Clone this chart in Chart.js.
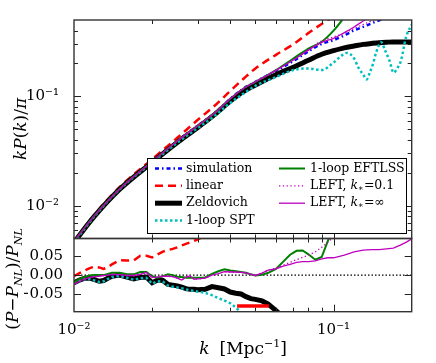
<!DOCTYPE html>
<html><head><meta charset="utf-8">
<script src="https://cdn.jsdelivr.net/npm/chart.js@4/dist/chart.umd.min.js"></script>
<style>
html,body{margin:0;padding:0;background:#fff;}
#wrap{position:relative;width:436px;height:363px;background:#fff;}
canvas{position:absolute;left:0;top:0;}
</style></head><body>
<div id="wrap"><canvas id="topc" width="436" height="363"></canvas><canvas id="botc" width="436" height="363"></canvas></div>
<script>
// ---------- top panel data: kP(k)/pi ----------
const kTop = [0.01,0.012,0.015,0.02,0.025,0.03,0.035,0.04,0.045,0.05,0.06,0.07,0.08,0.09,0.1,0.11,0.12,0.13,0.14,0.15,0.16,0.17,0.18,0.19,0.2];
const simTop  = [0.0047,0.0081,0.0142,0.0253,0.0390,0.0540,0.0710,0.0950,0.118,0.136,0.171,0.211,0.258,0.302,0.327,0.361,0.402,0.432,0.466,0.497,0.53,null,null,null,null];
const linTop  = [0.0047,0.0083,0.0148,0.0266,0.0418,0.0610,0.0830,0.112,0.145,0.180,0.240,0.300,0.380,0.460,0.540,null,null,null,null,null,null,null,null,null,null];
const zelTop  = [0.0046,0.0080,0.0141,0.0249,0.0379,0.0520,0.0688,0.0905,0.111,0.127,0.158,0.185,0.214,0.243,0.262,0.278,0.289,0.299,0.305,0.310,0.313,0.315,0.315,0.315,0.314];
const eftTop  = [0.0047,0.0081,0.0142,0.0253,0.0390,0.0540,0.0710,0.0950,0.118,0.136,0.174,0.222,0.274,0.316,0.400,0.530,null,null,null,null,null,null,null,null,null];
const left01Top = [0.0047,0.0081,0.0142,0.0253,0.0390,0.0540,0.0710,0.0950,0.118,0.136,0.173,0.216,0.268,0.322,0.350,0.380,0.418,0.455,0.490,0.530,null,null,null,null,null];
const leftInfTop = [0.0047,0.0081,0.0142,0.0253,0.0390,0.0540,0.0710,0.0950,0.118,0.136,0.173,0.215,0.265,0.312,0.340,0.383,0.432,0.490,0.550,null,null,null,null,null,null];
const kSptTop = [0.01,0.012,0.015,0.02,0.025,0.03,0.035,0.04,0.045,0.05,0.06,0.07,0.08,0.09,0.1,0.105,0.1125,0.12,0.125,0.13,0.134,0.138,0.142,0.146,0.1527,0.158,0.164,0.1705,0.176,0.182,0.19,0.2];
const sptTop  = [0.0046,0.0080,0.0141,0.0248,0.0377,0.0515,0.0670,0.0870,0.106,0.125,0.150,0.174,0.180,0.174,0.204,0.226,0.250,0.222,0.181,0.159,0.143,0.166,0.200,0.253,0.313,0.263,0.214,0.165,0.181,0.214,0.345,0.454];

// ---------- bottom panel data: (P-P_NL)/P_NL ----------
const kBot = [0.010,0.0105,0.011,0.0115,0.012,0.0125,0.013,0.0135,0.014,0.015,0.016,0.017,0.018,0.019,0.020,0.021,0.022,0.023,0.024,0.025,0.026,0.027,0.028,0.029,0.030,0.032,0.034,0.036,0.038,0.040,0.042,0.044,0.046,0.048,0.050,0.053,0.056,0.060,0.064,0.068,0.072,0.076,0.080,0.085,0.090,0.095,0.100,0.11,0.12,0.13,0.14,0.15,0.16,0.17,0.18,0.19,0.20];
const linBot = [-0.003,0.005,0.012,0.018,0.022,0.020,0.016,0.020,0.028,0.039,0.038,0.038,0.050,0.050,0.046,0.054,0.061,0.065,0.068,0.072,0.077,0.081,0.085,0.089,0.093,0.102,0.115,null,null,null,null,null,null,null,null,null,null,null,null,null,null,null,null,null,null,null,null,null,null,null,null,null,null,null,null,null,null];
const zelBot = [-0.020,-0.013,-0.008,-0.008,-0.012,-0.016,-0.014,-0.008,-0.003,0.000,-0.005,-0.010,-0.006,-0.005,-0.020,-0.013,-0.014,-0.024,-0.026,-0.028,-0.031,-0.035,-0.037,-0.037,-0.038,-0.037,-0.030,-0.033,-0.036,-0.044,-0.047,-0.049,-0.056,-0.061,-0.063,-0.067,-0.075,-0.092,-0.110,null,null,null,null,null,null,null,null,null,null,null,null,null,null,null,null,null,null];
const sptBot = [-0.022,-0.015,-0.010,-0.010,-0.014,-0.018,-0.016,-0.010,-0.005,-0.002,-0.007,-0.012,-0.008,-0.007,-0.022,-0.016,-0.017,-0.027,-0.030,-0.032,-0.034,-0.037,-0.040,-0.041,-0.043,-0.046,-0.052,-0.060,-0.066,-0.073,-0.084,-0.097,-0.110,null,null,null,null,null,null,null,null,null,null,null,null,null,null,null,null,null,null,null,null,null,null,null,null];
const eftBot = [-0.019,-0.010,-0.005,-0.001,0.000,0.000,0.000,0.003,0.006,0.006,0.002,0.002,0.008,0.008,-0.003,-0.007,-0.003,0.002,0.000,-0.004,-0.005,-0.007,-0.007,-0.007,-0.007,-0.006,0.003,0.010,0.015,0.012,0.010,0.008,0.006,0.002,-0.001,0.001,0.006,0.016,0.035,0.053,0.063,0.064,0.054,0.040,0.047,0.088,0.130,null,null,null,null,null,null,null,null,null,null];
const left01Bot = [-0.024,-0.016,-0.010,-0.006,-0.004,-0.003,-0.001,0.000,0.002,0.001,-0.001,-0.001,0.002,0.007,-0.006,-0.005,-0.003,-0.003,-0.004,-0.008,-0.013,-0.005,-0.002,-0.011,-0.010,-0.008,0.000,0.004,0.009,0.008,0.008,0.007,0.006,0.002,-0.001,0.005,0.013,0.018,0.026,0.033,0.040,0.046,0.052,0.060,0.072,0.085,0.100,null,null,null,null,null,null,null,null,null,null];
const leftInfBot = [-0.024,-0.016,-0.010,-0.006,-0.004,-0.003,-0.001,0.000,0.002,0.001,-0.001,-0.001,0.002,0.007,-0.006,-0.005,-0.003,-0.003,-0.004,-0.008,-0.013,-0.005,-0.002,-0.011,-0.010,-0.008,0.000,0.004,0.009,0.008,0.008,0.007,0.006,0.002,-0.001,0.005,0.013,0.016,0.023,0.028,0.033,0.035,0.035,0.037,0.042,0.045,0.045,0.052,0.060,0.065,0.066,0.066,0.068,0.070,0.077,0.085,0.094];
const kZero = [0.01,0.2];
const zeroLine = [0,0];
const kRedBar = [0.0425,0.0563];
const redBar = [-0.080,-0.080];

// ---------- tick values ----------
const xMajor = [0.01,0.1];
const xMinor = [0.02,0.03,0.04,0.05,0.06,0.07,0.08,0.09,0.2];
const yTopMajor = [0.01,0.1];
const yTopMinor = [0.005,0.006,0.007,0.008,0.009,0.02,0.03,0.04,0.05,0.06,0.07,0.08,0.09,0.2,0.3,0.4,0.5];
const yBotMajor = [-0.05,0,0.05];
const xLabels = {'0.01':'10⁻²','0.1':'10⁻¹'};
const yTopLabels = {'0.01':'10⁻²','0.1':'10⁻¹'};
const yBotLabels = {'-0.05':'−0.05','0':'0.00','0.05':'0.05'};

// ---------- styles ----------
const C = {blue:'#0000ff', red:'#ff0000', black:'#000000', cyan:'#00bfbf', green:'#008000', mag:'#bf00bf'};
const S = {
  sim:{borderColor:C.blue, borderWidth:2.5, borderDash:[4,3,1.5,3]},
  lin:{borderColor:C.red, borderWidth:2.5, borderDash:[8,5]},
  zel:{borderColor:C.black, borderWidth:5, borderDash:[]},
  spt:{borderColor:C.cyan, borderWidth:2.5, borderDash:[2.5,2.5]},
  eft:{borderColor:C.green, borderWidth:2, borderDash:[]},
  l01:{borderColor:C.mag, borderWidth:1.3, borderDash:[1.3,2.5]},
  linf:{borderColor:C.mag, borderWidth:1.3, borderDash:[]}
};
const SERIF = "'DejaVu Serif', serif";

function ds(label, ks, vals, style, order, extra){
  return Object.assign({label, data: ks.map((k,i)=>({x:k, y:vals[i]})), pointRadius:0, pointHoverRadius:0,
    fill:false, clip:0, order, spanGaps:false, borderCapStyle:'butt'}, style, extra||{});
}

const frameTicks = {
  id:'frameTicks',
  afterDatasetsDraw(chart, args, opts){
    const {ctx, chartArea:a, scales} = chart;
    const xs = scales.x, ys = scales.y;
    ctx.save();
    ctx.strokeStyle = '#222'; ctx.lineWidth = 1; ctx.setLineDash([]);
    ctx.beginPath();
    const tx = (vals,len)=>vals.forEach(v=>{const p=Math.round(xs.getPixelForValue(v))+0.5; if(p<a.left+1||p>a.right-1) return;
      ctx.moveTo(p,a.top); ctx.lineTo(p,a.top+len); ctx.moveTo(p,a.bottom); ctx.lineTo(p,a.bottom-len);});
    const ty = (vals,len)=>vals.forEach(v=>{const p=Math.round(ys.getPixelForValue(v))+0.5; if(p<a.top+1||p>a.bottom-1) return;
      ctx.moveTo(a.left,p); ctx.lineTo(a.left+len,p); ctx.moveTo(a.right,p); ctx.lineTo(a.right-len,p);});
    tx(xMajor,7); tx(xMinor,4); ty(opts.yMajor,7); ty(opts.yMinor,4);
    ctx.stroke();
    ctx.lineWidth = 1.4; ctx.strokeStyle = '#333';
    ctx.strokeRect(a.left, a.top, a.right-a.left, a.bottom-a.top);
    ctx.restore();
  }
};

function rich(ctx, parts, x, y, rot){
  ctx.save();
  ctx.translate(x,y); if(rot) ctx.rotate(rot);
  ctx.textBaseline='alphabetic'; ctx.fillStyle='#000';
  let w=0;
  parts.forEach(p=>{ctx.font=(p.it?'italic ':'')+p.s+'px '+SERIF; p.w=ctx.measureText(p.t).width; w+=p.w+(p.gap||0);});
  let cx=-w/2;
  parts.forEach(p=>{ctx.font=(p.it?'italic ':'')+p.s+'px '+SERIF; ctx.fillText(p.t,cx,(p.dy||0)); cx+=p.w+(p.gap||0);});
  ctx.restore();
}

const topText = {
  id:'topText',
  afterDraw(chart){
    const ctx = chart.ctx;
    rich(ctx,[{t:'k',it:1,s:17},{t:'P',it:1,s:17},{t:'(',s:17},{t:'k',it:1,s:17},{t:')',s:17},{t:'/',s:17},{t:'π',it:1,s:17}],26,129,-Math.PI/2);
    const L={x:147,y:158,w:259,h:75};
    ctx.save();
    ctx.fillStyle='#fff'; ctx.fillRect(L.x,L.y,L.w,L.h);
    ctx.strokeStyle='#000'; ctx.lineWidth=1; ctx.setLineDash([]);
    ctx.strokeRect(L.x+0.5,L.y+0.5,L.w,L.h);
    const rows=[168.5,185.8,203.2,220.6];
    const items=[
      [S.sim,[{t:'simulation',s:12.5}],0,0],
      [S.lin,[{t:'linear',s:12.5}],0,1],
      [S.zel,[{t:'Zeldovich',s:12.5}],0,2],
      [S.spt,[{t:'1-loop SPT',s:12.5}],0,3],
      [S.eft,[{t:'1-loop EFTLSS',s:12.5}],1,0],
      [S.l01,[{t:'LEFT, ',s:12.5},{t:'k',it:1,s:12.5},{t:'∗',s:8.5,dy:3},{t:'=0.1',s:12.5}],1,1],
      [S.linf,[{t:'LEFT, ',s:12.5},{t:'k',it:1,s:12.5},{t:'∗',s:8.5,dy:3},{t:'=∞',s:12.5}],1,2]
    ];
    items.forEach(([st,parts,col,row])=>{
      const y=rows[row];
      const x0= col? 279:155, x1= col? 305:182, tx0 = col? 310:186;
      ctx.save();
      ctx.strokeStyle=st.borderColor; ctx.lineWidth=st.borderWidth; ctx.setLineDash(st.borderDash); ctx.lineCap='butt';
      ctx.beginPath(); ctx.moveTo(x0,y); ctx.lineTo(x1,y); ctx.stroke();
      ctx.restore();
      let cx=tx0;
      parts.forEach(p=>{ctx.font=(p.it?'italic ':'')+p.s+'px '+SERIF; ctx.fillStyle='#000'; ctx.textBaseline='middle'; ctx.fillText(p.t,cx,y+(p.dy||0)); cx+=ctx.measureText(p.t).width;});
    });
    ctx.restore();
  }
};

const botText = {
  id:'botText',
  afterDraw(chart){
    const ctx = chart.ctx;
    rich(ctx,[{t:'(',s:17},{t:'P',it:1,s:17},{t:'−',s:17},{t:'P',it:1,s:17},{t:'NL',it:1,s:11,dy:4},{t:')/',s:17},{t:'P',it:1,s:17},{t:'NL',it:1,s:11,dy:4}],18,279,-Math.PI/2);
    rich(ctx,[{t:'k',it:1,s:17,gap:10},{t:'[Mpc',s:17},{t:'−1',s:11,dy:-7},{t:']',s:17}],243,354,0);
  }
};

const tickFont = {family:'DejaVu Serif', size:15};

new Chart(document.getElementById('topc'), {
  type:'line',
  data:{datasets:[
    ds('simulation',kTop,simTop,S.sim,7,{cubicInterpolationMode:'monotone'}),
    ds('linear',kTop,linTop,S.lin,6,{cubicInterpolationMode:'monotone'}),
    ds('Zeldovich',kTop,zelTop,S.zel,5,{cubicInterpolationMode:'monotone'}),
    ds('1-loop SPT',kSptTop,sptTop,S.spt,4,{cubicInterpolationMode:'monotone'}),
    ds('1-loop EFTLSS',kTop,eftTop,S.eft,3,{cubicInterpolationMode:'monotone'}),
    ds('LEFT, k*=0.1',kTop,left01Top,S.l01,2,{cubicInterpolationMode:'monotone'}),
    ds('LEFT, k*=∞',kTop,leftInfTop,S.linf,1,{cubicInterpolationMode:'monotone'})
  ]},
  options:{
    responsive:false, animation:false, devicePixelRatio:1,
    layout:{padding:{left:24, top:20, right:24.3, bottom:124.5}},
    plugins:{legend:{display:false}, tooltip:{enabled:false}, frameTicks:{yMajor:yTopMajor, yMinor:yTopMinor}},
    scales:{
      x:{type:'logarithmic', min:0.01, max:0.2, display:false},
      y:{type:'logarithmic', min:0.005, max:0.5, position:'left',
         grid:{display:false}, border:{display:false},
         afterBuildTicks:s=>{s.ticks=yTopMajor.map(v=>({value:v}));},
         afterFit:s=>{s.width=50;},
         ticks:{autoSkip:false, padding:7, color:'#000', font:tickFont, callback:v=>yTopLabels[String(v)]||''}}
    }
  },
  plugins:[frameTicks, topText]
});

new Chart(document.getElementById('botc'), {
  type:'line',
  data:{datasets:[
    ds('zero',kZero,zeroLine,{borderColor:'#000',borderWidth:1.2,borderDash:[1.5,2]},9),
    ds('linear',kBot,linBot,S.lin,6),
    ds('Zeldovich',kBot,zelBot,S.zel,5),
    ds('1-loop SPT',kBot,sptBot,S.spt,4),
    ds('1-loop EFTLSS',kBot,eftBot,S.eft,3),
    ds('LEFT, k*=0.1',kBot,left01Bot,S.l01,2),
    ds('LEFT, k*=∞',kBot,leftInfBot,S.linf,1),
    ds('bar',kRedBar,redBar,{borderColor:C.red,borderWidth:3.5,borderDash:[]},0)
  ]},
  options:{
    responsive:false, animation:false, devicePixelRatio:1,
    layout:{padding:{left:24, top:238.5, right:24.3, bottom:21.3}},
    plugins:{legend:{display:false}, tooltip:{enabled:false}, frameTicks:{yMajor:yBotMajor, yMinor:[]}},
    scales:{
      x:{type:'logarithmic', min:0.01, max:0.2, position:'bottom',
         grid:{display:false}, border:{display:false},
         afterBuildTicks:s=>{s.ticks=xMajor.map(v=>({value:v}));},
         afterFit:s=>{s.height=30;},
         ticks:{autoSkip:false, maxRotation:0, minRotation:0, padding:1, color:'#000', font:tickFont, callback:v=>xLabels[String(v)]||''}},
      y:{type:'linear', min:-0.095, max:0.095, position:'left',
         grid:{display:false}, border:{display:false},
         afterBuildTicks:s=>{s.ticks=yBotMajor.map(v=>({value:v}));},
         afterFit:s=>{s.width=50;},
         ticks:{autoSkip:false, padding:3, color:'#000', font:tickFont, callback:v=>yBotLabels[String(v)]||''}}
    }
  },
  plugins:[frameTicks, botText]
});
</script>
</body></html>
